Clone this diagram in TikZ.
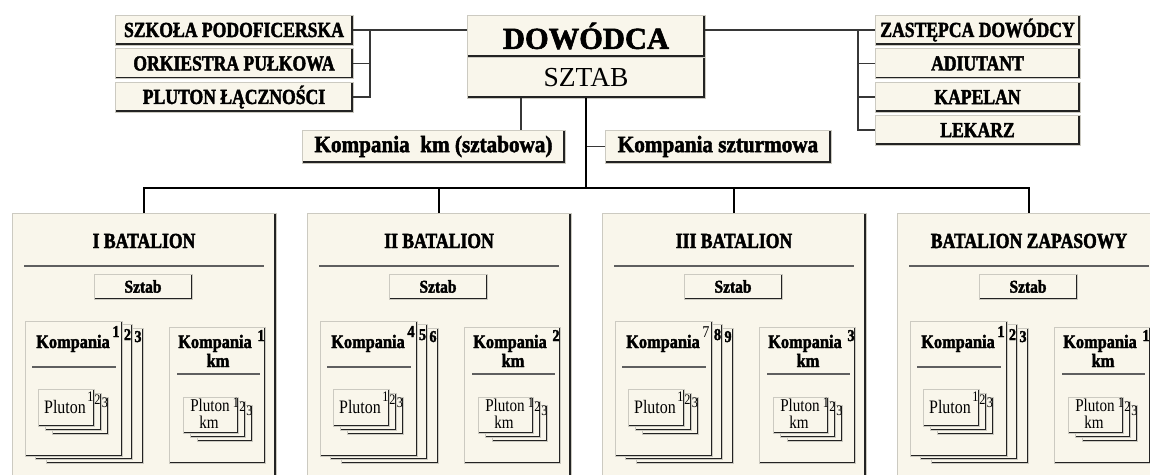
\documentclass[tikz,border=0pt]{standalone}
\usepackage{fontspec}
\setmainfont{Liberation Serif}
\newfontfamily\hbf{Liberation Serif}[FakeStretch=0.82, BoldFeatures={FakeBold=2}]
\newfontfamily\hkb{Liberation Serif}[FakeStretch=0.86, BoldFeatures={FakeBold=2}]
\newfontfamily\hmid{Liberation Serif}[FakeStretch=0.9, BoldFeatures={FakeBold=2}]
\newfontfamily\hreg{Liberation Serif}[FakeStretch=0.84]
\newfontfamily\hbig{Liberation Serif}[BoldFeatures={FakeBold=2}]
\definecolor{cream}{RGB}{249,246,235}
\definecolor{edgec}{RGB}{35,35,35}
\definecolor{connc}{RGB}{55,55,55}
\newcommand{\fs}[1]{\fontsize{#1}{#1}\selectfont}
\begin{document}
\begin{tikzpicture}[x=1pt,y=-1pt,
  box/.style={fill=cream, draw=cream!82!black, line width=0.5pt, inner sep=0pt, outer sep=0pt,
    anchor=north west, align=center,
    path picture={\draw[edgec, line width=#1]
      (path picture bounding box.north east) -- (path picture bounding box.south east)
      -- (path picture bounding box.south west);}},
  box/.default=3.2pt,
  lab/.style={font=\hbf\bfseries\fs{21.5}},
  mid/.style={font=\hmid\bfseries\fs{23.5}},
  ttl/.style={font=\hbf\bfseries\fs{21.5}, anchor=base, inner sep=0pt},
  kfont/.style={font=\hkb\bfseries\fs{19}, anchor=base, inner sep=0pt},
  pfont/.style={font=\hreg\fs{19}, anchor=base, inner sep=0pt},
  qfont/.style={font=\hreg\fs{18}, anchor=base, inner sep=0pt},
  supb/.style={font=\hkb\bfseries\fs{16.5}, anchor=base, inner sep=0pt},
  supr/.style={font=\hreg\fs{14.5}, anchor=base, inner sep=0pt},
  conn/.style={connc, line width=1.4pt},
  busline/.style={black, line width=2.8pt},
  divline/.style={connc!80!white, line width=1.2pt},
]
\useasboundingbox (0,0) rectangle (1150,474);
\clip (0,0) rectangle (1150,474);

% ---- top: commander ----
\node[box, minimum width=238pt, minimum height=42pt, font=\hbig\bfseries\fs{30.5}] (dow) at (467,15) {DOWÓDCA};
\node[box, minimum width=238pt, minimum height=41pt, font=\fs{27.5}] (sztab) at (467,57) {SZTAB};

% left column
\node[box, lab, minimum width=238pt, minimum height=30pt] (szk) at (115,15) {SZKOŁA PODOFICERSKA};
\node[box, lab, minimum width=238pt, minimum height=30pt] (ork) at (115,48.5) {ORKIESTRA PUŁKOWA};
\node[box, lab, minimum width=238pt, minimum height=30pt] (plu) at (115,82) {PLUTON ŁĄCZNOŚCI};

% right column
\node[box, lab, minimum width=205pt, minimum height=30pt] (zas) at (875,15) {ZASTĘPCA DOWÓDCY};
\node[box, lab, minimum width=205pt, minimum height=30pt] (adi) at (875,48.5) {ADIUTANT};
\node[box, lab, minimum width=205pt, minimum height=30pt] (kap) at (875,82) {KAPELAN};
\node[box, lab, minimum width=205pt, minimum height=30pt] (lek) at (875,115) {LEKARZ};

% middle companies
\node[box, mid, minimum width=263pt, minimum height=33pt] (kkm) at (302,130) {Kompania\ \ km (sztabowa)};
\node[box, mid, minimum width=226pt, minimum height=33pt] (ksz) at (605,130) {Kompania szturmowa};

\coordinate (lt) at (370,0);
\coordinate (rt) at (858,0);
\coordinate (kc) at (521,0);
\coordinate (busy) at (0,188);

% connectors top
\draw[conn] (szk.east) -- (szk.east -| dow.west);
\draw[conn] (ork.east) -- (ork.east -| lt);
\draw[conn] (plu.east) -- (plu.east -| lt) -- (szk.east -| lt);
\draw[conn] (zas.west -| dow.east) -- (zas.west);
\draw[conn] (adi.west -| rt) -- (adi.west);
\draw[conn] (kap.west -| rt) -- (kap.west);
\draw[conn] (zas.west -| rt) |- (lek.west);
\draw[conn] (sztab.south -| kc) -- (kkm.north -| kc);
\draw[conn] (ksz.west) -- (ksz.west -| sztab.south);

% ---- battalions ----
\foreach \i/\xo/\title/\ka/\kb/\kk/\km in {1/12/I BATALION/1/2/3/1, 2/307/II BATALION/4/5/6/2, 3/602/III BATALION/\mdseries 7/8/9/3, 4/897/BATALION ZAPASOWY/1/2/3/1} {
  \node[box=3.4pt, minimum width=264pt, minimum height=290pt] (b\i) at (\xo,213) {};
  \node[ttl] (t\i) at (\xo+132,248) {\title};
  \draw[divline] (\xo+12,266) -- (\xo+252,266);
  \node[box=2.6pt, minimum width=98pt, minimum height=25pt, font=\hkb\bfseries\fs{18}] (s\i) at (\xo+82,274) {Sztab};
  % Kompania stack
  \node[box=2.4pt, minimum width=97pt, minimum height=135pt] (kcc\i) at (\xo+34,328) {};
  \node[box=2.4pt, minimum width=97pt, minimum height=135pt] (kbb\i) at (\xo+23.5,324.5) {};
  \node[box=2.4pt, minimum width=97pt, minimum height=135pt] (kaa\i) at (\xo+13,321) {};
  \node[kfont] (kt\i) at (\xo+61,348) {Kompania};
  \node[supb] (ksa\i) at (\xo+104,337) {\ka};
  \node[supb] (ksb\i) at (\xo+115.5,340) {\kb};
  \node[supb] (ksc\i) at (\xo+126,342) {\kk};
  \draw[divline] (\xo+20,367) -- (\xo+104,367);
  \node[box=2pt, minimum width=56pt, minimum height=37pt] (pc\i) at (\xo+40,397) {};
  \node[box=2pt, minimum width=56pt, minimum height=37pt] (pb\i) at (\xo+33,393) {};
  \node[box=2pt, minimum width=56pt, minimum height=37pt] (pa\i) at (\xo+26,389) {};
  \node[pfont] (pt\i) at (\xo+53,413) {Pluton};
  \node[supr] (psa\i) at (\xo+78.5,401) {1};
  \node[supr] (psb\i) at (\xo+85.5,404) {2};
  \node[supr] (psc\i) at (\xo+93,407) {3};
  % Kompania km
  \node[box=2.4pt, minimum width=96pt, minimum height=136pt] (kmb\i) at (\xo+157,327) {};
  \node[kfont] (kmt\i) at (\xo+203,348) {Kompania};
  \node[supb] (kms\i) at (\xo+249,341) {\km};
  \node[kfont] (kmk\i) at (\xo+206,367) {km};
  \draw[divline] (\xo+165,374) -- (\xo+248,374);
  \node[box=2pt, minimum width=55pt, minimum height=36pt] (qc\i) at (\xo+185,405) {};
  \node[box=2pt, minimum width=55pt, minimum height=36pt] (qb\i) at (\xo+178,401) {};
  \node[box=2pt, minimum width=55pt, minimum height=36pt] (qa\i) at (\xo+171,397) {};
  \node[qfont] (qt\i) at (\xo+198,411) {Pluton};
  \node[qfont] (qk\i) at (\xo+197,428.5) {km};
  \node[supr] (qsa\i) at (\xo+224,407) {1};
  \node[supr] (qsb\i) at (\xo+230.5,411) {2};
  \node[supr] (qsc\i) at (\xo+237.5,415) {3};
}

% bus
\draw[busline] (sztab.south) -- (sztab.south |- busy);
\draw[busline] (b1.north) -- (b1.north |- busy) -- (b4.north |- busy) -- (b4.north);
\draw[busline] (b2.north) -- (b2.north |- busy);
\draw[busline] (b3.north) -- (b3.north |- busy);
\end{tikzpicture}
\end{document}
